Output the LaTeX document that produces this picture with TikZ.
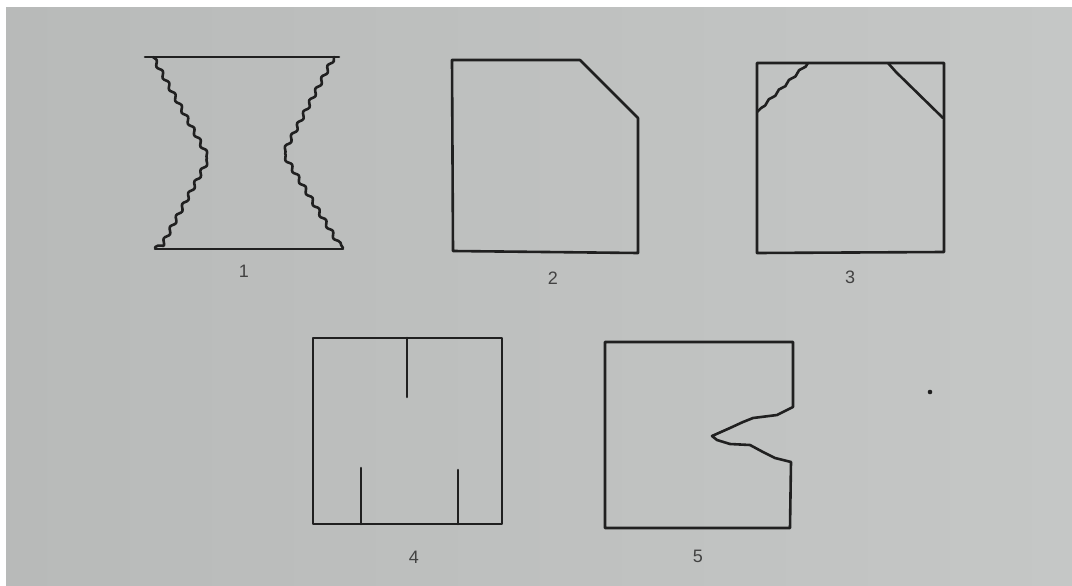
\documentclass[tikz,border=0pt]{standalone}
\usepackage{fontspec}
\setmainfont{Liberation Sans}
\usetikzlibrary{decorations.pathmorphing}
\definecolor{paperL}{RGB}{184,186,185}
\definecolor{paperR}{RGB}{197,199,198}
\definecolor{ink}{RGB}{32,32,32}
\begin{document}
\begin{tikzpicture}[x=1pt,y=-1pt,
  ln/.style={draw=ink, line width=2.6pt, line join=round, line cap=round},
  wig/.style={decorate, decoration={snake, segment length=13pt, amplitude=1.8pt}},
  lbl/.style={font=\fontsize{18}{18}\selectfont, text=ink!85, inner sep=0pt}]
\useasboundingbox (0,0) rectangle (1072,586);
\fill[white] (0,0) rectangle (1072,586);
\shade[left color=paperL, right color=paperR] (6,8) rectangle (1072,586);

% figure 1
\draw[ln] (145,57) -- (339,57);
\draw[ln] (155,249) -- (343,249);
\draw[ln, wig] (153,57) -- (206,153) -- (155,248);
\draw[ln, wig] (334,57) -- (284,152) -- (343,248);
\node[lbl] (l1) at (244,271) {1};

% figure 2
\draw[ln] (452,60) -- (580,60) -- (638,118) -- (638,253) -- (453,251) -- cycle;
\node[lbl] (l2) at (553,278) {2};

% figure 3
\draw[ln] (757,63) -- (944,63) -- (944,252) -- (757,253) -- cycle;
\draw[ln, decorate, decoration={snake, segment length=14pt, amplitude=1pt}] (808,63) -- (757,112);
\draw[ln] (888,63) -- (896,72) -- (943,118);
\node[lbl] (l3) at (850,277) {3};

% figure 4
\draw[ln] (313,338) rectangle (502,524);
\draw[ln] (407,338) -- (407,397);
\draw[ln] (361,524) -- (361,468);
\draw[ln] (458,524) -- (458,470);
\node[lbl] (l4) at (414,557) {4};

% figure 5
\draw[ln] (605,342) -- (793,342) -- (793,407)
  -- (777,415) -- (753,418) -- (743,422) -- (730,428) -- (712,436)
  -- (717,440) -- (730,444) -- (750,445) -- (763,452) -- (775,458) -- (791,462)
  -- (790,528) -- (605,528) -- cycle;
\node[lbl] (l5) at (698,556) {5};

% speck
\fill[ink] (930,392) circle (2.3pt);
\end{tikzpicture}
\end{document}
